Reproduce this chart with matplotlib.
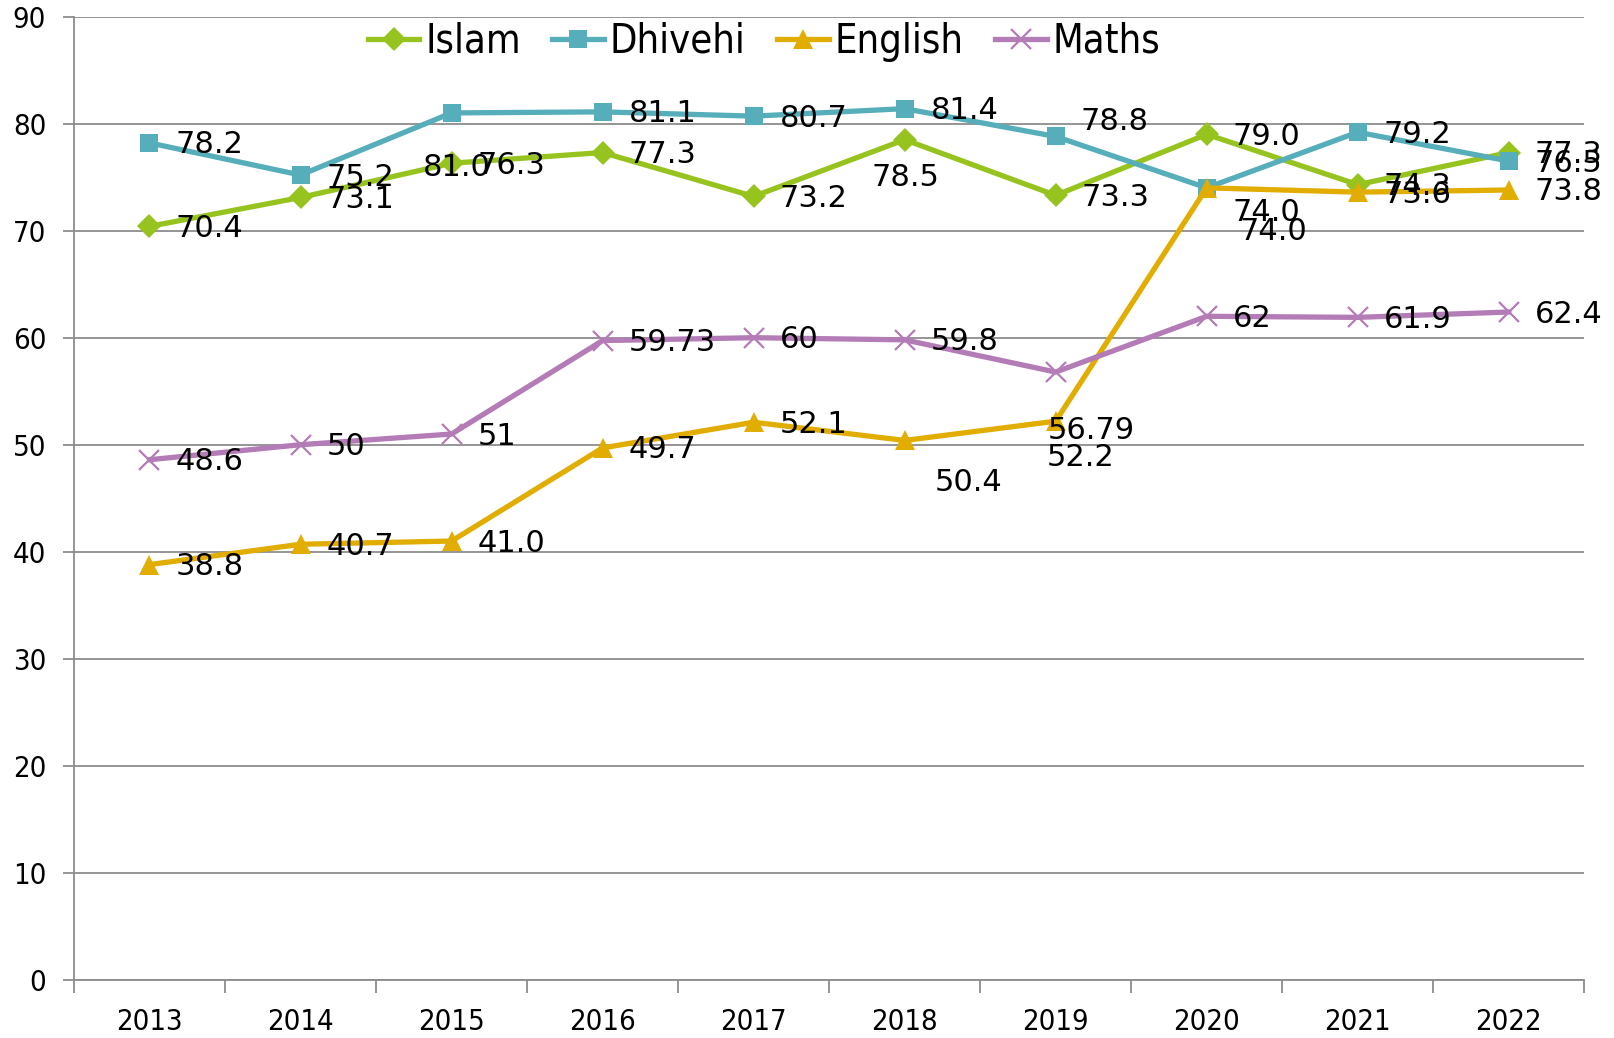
import matplotlib
matplotlib.use("Agg")
import matplotlib.pyplot as plt
from matplotlib import font_manager
from matplotlib.ticker import MultipleLocator, FixedLocator

years = ["2013", "2014", "2015", "2016", "2017", "2018", "2019", "2020", "2021", "2022"]
islam = [70.4, 73.1, 76.3, 77.3, 73.2, 78.5, 73.3, 79.0, 74.3, 77.3]
dhivehi = [78.2, 75.2, 81.0, 81.1, 80.7, 81.4, 78.8, 74.0, 79.2, 76.5]
english = [38.8, 40.7, 41.0, 49.7, 52.1, 50.4, 52.2, 74.0, 73.6, 73.8]
maths = [48.6, 50, 51, 59.73, 60, 59.8, 56.79, 62, 61.9, 62.4]
maths_text = ["48.6", "50", "51", "59.73", "60", "59.8", "56.79", "62", "61.9", "62.4"]

# narrow regular font for axis and legend text, if one is around
cond = [f.fname for f in font_manager.fontManager.ttflist
        if ("Condensed" in f.fname or "Narrow" in f.fname)
        and "Bold" not in f.fname and "Oblique" not in f.fname and "Italic" not in f.fname]
cond.sort(key=lambda p: (not p.endswith("DejaVuSansCondensed.ttf"), p))
if cond:
    narrow_fp = font_manager.FontProperties(fname=cond[0])
else:
    narrow_fp = font_manager.FontProperties(family="DejaVu Sans")

default_off = (26, -2)
special_off = {
    ("Islam", 5): (-33, -38),
    ("Dhivehi", 2): (-29, -55),
    ("Dhivehi", 6): (25, 15),
    ("Dhivehi", 7): (26, -25),
    ("English", 5): (30, -42),
    ("English", 6): (-9, -36),
    ("English", 7): (33, -44),
    ("Maths", 6): (-8, -58),
}

series = [
    ("Islam", islam, "#97C31F", "D", 12, None),
    ("Dhivehi", dhivehi, "#55AEB9", "s", 13.5, None),
    ("English", english, "#E0AD00", "^", 14, None),
    ("Maths", maths, "#B47CB6", "x", 14, maths_text),
]

fig = plt.figure(figsize=(16.15, 10.38), dpi=100)
ax = fig.add_axes([0.0458, 0.056, 0.9352, 0.928])

x = list(range(len(years)))
for name, vals, col, mk, ms, txt in series:
    ax.plot(x, vals, color=col, lw=3.8, marker=mk, ms=ms, mew=1.6 if mk == "x" else 0,
            mec=col, label=name, zorder=3)
    for i, v in enumerate(vals):
        s = txt[i] if txt else "%.1f" % v
        dx, dy = special_off.get((name, i), default_off)
        ax.annotate(s, (i, v), xytext=(dx, dy), textcoords="offset pixels",
                    ha="left", va="center", fontsize=22, family="DejaVu Sans",
                    color="black", zorder=4)

ax.set_xlim(-0.5, len(years) - 0.5)
ax.set_ylim(0, 90)
ax.yaxis.set_major_locator(MultipleLocator(10))
ax.grid(axis="y", color="#8C8C8C", lw=1.3, zorder=0)
ax.set_axisbelow(True)

ax.set_xticks(x)
ax.set_xticklabels(years)
ax.xaxis.set_minor_locator(FixedLocator([i - 0.5 for i in range(len(years) + 1)]))
ax.tick_params(axis="x", which="major", length=0, pad=20)
ax.tick_params(axis="x", which="minor", length=9, width=1.3, color="#8C8C8C")
ax.tick_params(axis="y", length=8, width=1.3, color="#8C8C8C", pad=12)
for lab in ax.get_xticklabels() + ax.get_yticklabels():
    lab.set_fontproperties(narrow_fp)
    lab.set_fontsize(21)

for side in ["top", "right"]:
    ax.spines[side].set_visible(False)
for side in ["left", "bottom"]:
    ax.spines[side].set_color("#8C8C8C")
    ax.spines[side].set_linewidth(1.3)

leg_fp = narrow_fp.copy()
leg_fp.set_size(28.5)
leg = ax.legend(loc="upper center", bbox_to_anchor=(0.457, 1.011), ncol=4, frameon=False,
                prop=leg_fp, handlelength=1.3,
                handletextpad=0.15, columnspacing=0.8, borderaxespad=0)

fig.savefig("out.png", dpi=100)
